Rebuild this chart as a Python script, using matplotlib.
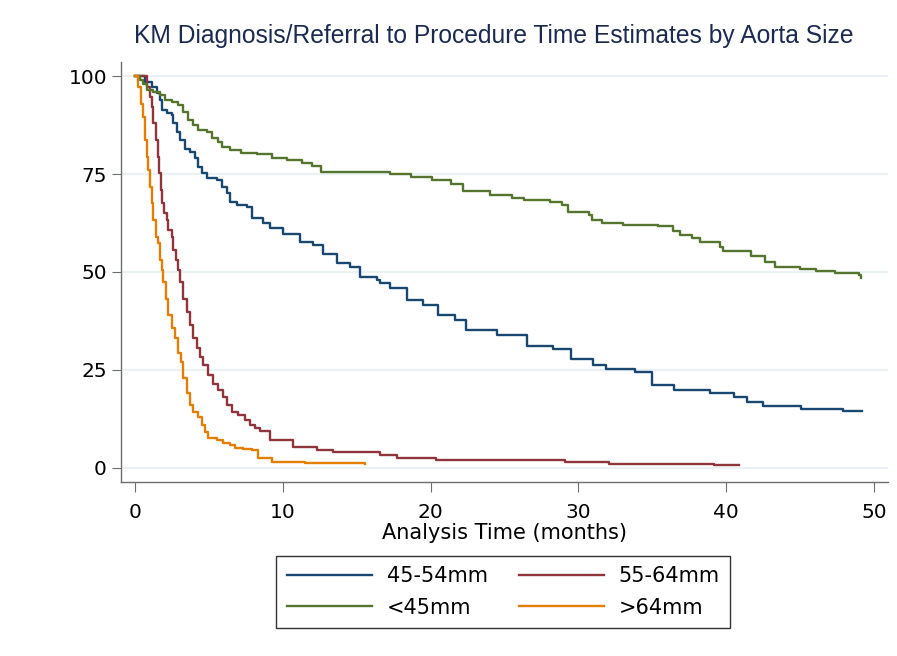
import matplotlib
matplotlib.use("Agg")
import matplotlib.pyplot as plt

# Kaplan-Meier estimates (percent still waiting) by aorta size group
t_45_54 = [0, 0.68, 1.13, 1.47, 1.69, 1.85, 2.14, 2.48, 2.59, 2.82, 3.04, 3.38, 3.72, 4.06,
           4.28, 4.51, 4.85, 5.53, 5.87, 6.2, 6.43, 6.88, 7.56, 7.9, 8.69, 9.13, 10.0, 11.16,
           12.06, 12.74, 13.64, 14.55, 15.22, 16.35, 16.6, 17.25, 18.4, 19.5, 20.5, 21.65,
           22.4, 24.5, 26.5, 28.3, 29.5, 31.0, 31.9, 33.8, 34.97, 36.5, 38.9, 40.5, 41.4,
           42.5, 45.1, 47.9, 49.2]
s_45_54 = [100, 98.5, 97.3, 95.6, 93.9, 91.3, 90.5, 90.0, 87.9, 85.8, 83.7, 81.5, 80.7, 79.0,
           76.8, 75.2, 74.1, 73.5, 71.7, 70.1, 67.9, 67.1, 66.6, 63.7, 62.4, 61.1, 59.8, 57.7,
           56.9, 54.7, 52.2, 51.3, 48.8, 47.9, 47.1, 45.8, 42.8, 41.5, 39.0, 37.7,
           35.2, 33.9, 31.1, 30.2, 27.7, 26.2, 25.1, 24.5, 21.1, 19.8, 19.0, 18.1, 16.8,
           15.8, 15.0, 14.5, 14.4]

t_55_64 = [0, 0.79, 1.01, 1.13, 1.24, 1.42, 1.53, 1.65, 1.74, 1.85, 1.96, 2.14, 2.26, 2.48,
           2.59, 2.77, 2.89, 3.04, 3.27, 3.5, 3.72, 3.95, 4.17, 4.4, 4.62, 4.96, 5.3, 5.64,
           5.97, 6.2, 6.54, 6.99, 7.44, 7.78, 8.12, 8.46, 9.13, 10.71, 12.29, 13.4, 16.6,
           17.7, 19.4, 20.4, 29.1, 32.1, 39.2, 40.9]
s_55_64 = [100, 97.3, 94.7, 92.2, 87.9, 83.7, 79.4, 75.2, 70.9, 67.5, 65.0, 63.2, 60.7, 59.0,
           55.6, 53.0, 50.5, 47.5, 43.2, 39.8, 36.4, 33.0, 30.5, 28.3, 26.2, 23.7, 21.5, 19.8,
           18.1, 16.0, 14.3, 13.5, 12.2, 10.9, 10.1, 9.4, 7.1, 5.4, 4.5, 4.1, 3.2,
           2.6, 2.4, 2.1, 1.5, 0.9, 0.6, 0.6]

t_lt45 = [0, 0.34, 0.56, 0.79, 1.24, 1.69, 2.03, 2.48, 2.93, 3.27, 3.61, 3.95, 4.28, 4.85,
          5.19, 5.64, 5.87, 6.43, 7.2, 8.23, 9.25, 10.26, 11.27, 11.95, 12.6, 17.25, 18.7,
          20.1, 21.4, 22.2, 24.0, 25.5, 26.3, 28.1, 28.9, 29.3, 30.7, 30.9, 31.6, 33.0, 35.4,
          36.4, 36.9, 37.7, 38.2, 39.6, 39.8, 41.7, 42.6, 43.3, 45.0, 46.1, 47.4, 49.0, 49.1]
s_lt45 = [100, 99.0, 98.1, 96.4, 96.0, 95.1, 93.9, 93.4, 92.6, 90.9, 88.8, 87.5, 86.2, 85.8,
          84.1, 83.2, 81.9, 81.1, 80.4, 80.0, 79.2, 78.6, 77.9, 77.0, 75.6, 75.0, 74.3,
          73.5, 72.4, 70.7, 69.6, 69.0, 68.3, 67.9, 67.1, 65.4, 64.5, 63.2, 62.5, 62.1, 61.8,
          60.5, 59.4, 58.6, 57.7, 56.4, 55.4, 54.1, 52.6, 51.3, 50.7, 50.3, 49.8, 49.2, 48.5]

t_gt64 = [0, 0.07, 0.22, 0.41, 0.52, 0.68, 0.79, 0.9, 1.01, 1.13, 1.24, 1.42, 1.58, 1.69,
          1.85, 1.92, 2.1, 2.26, 2.48, 2.71, 2.93, 3.09, 3.27, 3.5, 3.72, 3.95, 4.28, 4.51,
          4.74, 4.96, 5.53, 5.97, 6.43, 6.77, 7.33, 7.9, 8.34, 9.25, 11.5, 15.56]
s_gt64 = [100, 100, 97.3, 93.0, 89.6, 83.7, 79.4, 76.0, 71.7, 67.5, 63.2, 59.0, 57.3, 53.0,
          50.5, 47.5, 43.2, 39.0, 35.6, 33.0, 29.2, 27.1, 22.8, 19.0, 16.0, 14.3, 13.0, 10.9,
          9.2, 7.5, 7.1, 6.4, 5.8, 5.1, 4.8, 4.5, 2.4, 1.5, 1.1, 0.9]

groups = ["45-54mm", "55-64mm", "<45mm", ">64mm"]
colors = ["#1a476f", "#90353b", "#55752f", "#e37e00"]
y_ticks = [0, 25, 50, 75, 100]
x_ticks = [0, 10, 20, 30, 40, 50]

fig = plt.figure(figsize=(8.97, 6.56), dpi=100)
ax = fig.add_axes([0.1349, 0.2652, 0.855, 0.6403])

series = [(t_45_54, s_45_54), (t_55_64, s_55_64), (t_lt45, s_lt45), (t_gt64, s_gt64)]
lines = []
for (tt, ss), name, col in zip(series, groups, colors):
    ln, = ax.step(tt, ss, where="post", color=col, lw=1.7, label=name)
    lines.append(ln)

ax.set_xlim(-0.95, 50.95)
ax.set_ylim(-3.65, 103.6)
ax.set_yticks(y_ticks)
ax.set_xticks(x_ticks)
ax.yaxis.grid(True, color="#eaf2f3", lw=1.6)
ax.set_axisbelow(True)

for side in ("top", "right"):
    ax.spines[side].set_visible(False)
for side in ("left", "bottom"):
    ax.spines[side].set_color("#6e6e6e")
    ax.spines[side].set_linewidth(1.0)

ax.tick_params(axis="y", length=6.5, pad=3.6, color="#6e6e6e", labelsize=14.5)
ax.tick_params(axis="x", length=7, pad=8, color="#6e6e6e", labelsize=14.5)
ax.set_xlabel("Analysis Time (months)", fontsize=15, labelpad=1)

fig.text(0.149, 0.934, "KM Diagnosis/Referral to Procedure Time Estimates by Aorta Size",
         fontsize=17.7, family="Liberation Sans", color="#1c2a52", ha="left", va="baseline")

# legend fills column-first, so order handles to read row-wise
order = [0, 2, 1, 3]
leg = fig.legend([lines[i] for i in order], [groups[i] for i in order],
                 loc="center", bbox_to_anchor=(0.561, 0.0976), ncol=2, fontsize=15,
                 frameon=True, fancybox=False, edgecolor="black", handlelength=4.1,
                 handletextpad=0.7, columnspacing=1.5, labelspacing=0.55,
                 borderpad=0.5)
leg.get_frame().set_linewidth(1.0)

fig.savefig("out.png", dpi=100, facecolor="white")
